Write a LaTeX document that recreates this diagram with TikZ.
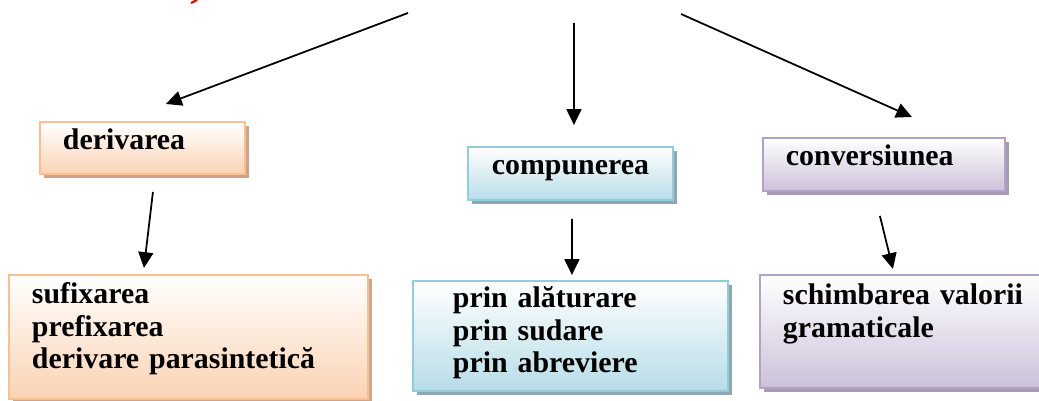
\documentclass[tikz,border=0pt]{standalone}
\usepackage{fontspec}
\setmainfont{Liberation Serif}
\usepackage{tikz}
\usetikzlibrary{arrows.meta}
\usetikzlibrary{calc}
\usetikzlibrary{shadows}
\definecolor{orangeline}{HTML}{F9BF8F}
\definecolor{orangefill}{HTML}{FAD3B3}
\definecolor{orangeshadow}{HTML}{CFA386}
\definecolor{blueline}{HTML}{93CDDD}
\definecolor{bluefill}{HTML}{B7DDE8}
\definecolor{blueshadow}{HTML}{8EA8B2}
\definecolor{purpleline}{HTML}{B3A2C7}
\definecolor{purplefill}{HTML}{CCC1DA}
\definecolor{purpleshadow}{HTML}{A69CB4}
\tikzset{
  wordbox/.style={line width=1.1pt, inner ysep=0pt, anchor=north west, align=left,
    font=\fontsize{17pt}{18.4pt}\selectfont\bfseries},
  orangebox/.style={wordbox, draw=orangeline, top color=white, bottom color=orangefill,
    drop shadow={fill=orangeshadow, opacity=1, shadow xshift=0.08cm, shadow yshift=-0.08cm}},
  bluebox/.style={wordbox, draw=blueline, top color=white, bottom color=bluefill,
    drop shadow={fill=blueshadow, opacity=1, shadow xshift=0.08cm, shadow yshift=-0.08cm}},
  purplebox/.style={wordbox, draw=purpleline, top color=white, bottom color=purplefill,
    drop shadow={fill=purpleshadow, opacity=1, shadow xshift=0.08cm, shadow yshift=-0.08cm}},
  arr/.style={line width=1pt, -{Triangle[length=9pt,width=8.5pt]}}
}
\begin{document}
\begin{tikzpicture}[x=0.02cm, y=-0.02cm]
    \path[use as bounding box, clip] (0,0) rectangle (1039,401);
    \draw[red, line width=1.2pt] (197,0) -- (191,3);
    \coordinate (top1) at (408,13);
    \coordinate (top2) at (574,23);
    \coordinate (top3) at (681,14);
    \node[orangebox, inner xsep=0.46cm, text width=3.18cm, text height=0.56cm, text depth=0.48cm] (der) at (39,121) {derivarea};
    \node[bluebox, inner xsep=0.2cm, text width=3.7cm, text height=0.56cm, text depth=0.5cm, align=center] (comp) at (467,146) {compunerea};
    \node[purplebox, inner xsep=0.46cm, text width=3.92cm, text height=0.56cm, text depth=0.5cm] (conv) at (762,137) {conversiunea};
    \node[orangebox, inner xsep=0.46cm, text width=6.26cm, text height=0.58cm, text depth=1.9cm] (suf) at (8,274) {sufixarea\\prefixarea\\derivare parasintetică};
    \node[bluebox, inner xsep=0.8cm, text width=4.7cm, text height=0.54cm, text depth=1.66cm] (prin) at (412,280) {prin alăturare\\prin sudare\\prin abreviere};
    \node[purplebox, inner xsep=0.46cm, text width=5.4cm, text height=0.6cm, text depth=1.66cm] (sch) at (759,274) {schimbarea valorii\\gramaticale};
    \draw[arr] (top1) -- ($(der.north)+(23.5,-17)$);
    \draw[arr] (top2) -- ($(comp.north)+(3.5,-21)$);
    \draw[arr] (top3) -- ($(conv.north)+(28,-20)$);
    \draw[arr] ($(der.south)+(10.5,17)$) -- ($(suf.north)+(-44.5,-6)$);
    \draw[arr] ($(comp.south)+(1.5,18)$) -- ($(prin.north)+(1.5,-5)$);
    \draw[arr] ($(conv.south)+(-4,24)$) -- ($(sch.north)+(-25,-5)$);
\end{tikzpicture}
\end{document}
